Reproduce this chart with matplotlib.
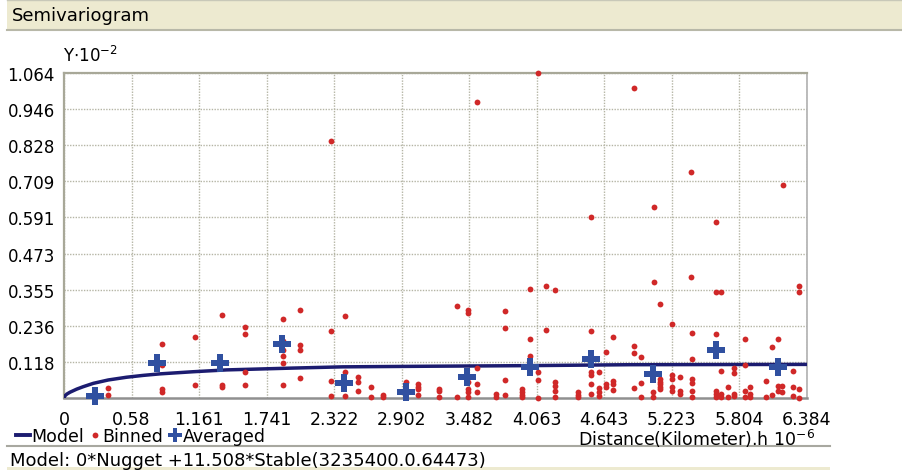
import numpy as np
import matplotlib
matplotlib.use("Agg")
import matplotlib.pyplot as plt
from matplotlib.patches import Rectangle
from matplotlib.lines import Line2D

plt.rcParams['font.family'] = ['DejaVu Sans']

#===== DATA =====#
xticks = [0, 0.58, 1.161, 1.741, 2.322, 2.902, 3.482, 4.063, 4.643, 5.223, 5.804, 6.384]
yticks = [0.118, 0.236, 0.355, 0.473, 0.591, 0.709, 0.828, 0.946, 1.064]

# binned semivariance points (distance, gamma)
binned_x = [0.380, 0.380,
            0.844, 0.844, 0.844, 0.844,
            1.127, 1.127,
            1.359, 1.359, 1.359,
            1.554, 1.554, 1.554, 1.554,
            1.883, 1.883, 1.883, 1.883, 1.883, 1.883,
            2.026, 2.026, 2.026, 2.026,
            2.298, 2.298, 2.298, 2.298,
            2.415, 2.415, 2.415,
            2.527, 2.527, 2.527,
            2.636, 2.636,
            2.741, 2.741,
            2.942,
            3.042, 3.042, 3.042, 3.042,
            3.222, 3.222, 3.222,
            3.380, 3.380,
            3.471, 3.471, 3.471, 3.471, 3.471, 3.471,
            3.549, 3.549, 3.549, 3.549,
            3.715, 3.715,
            3.789, 3.789, 3.789, 3.789,
            3.935, 3.935, 3.935, 3.935,
            4.005, 4.005, 4.005,
            4.073, 4.072, 4.072, 4.072,
            4.138, 4.138,
            4.216, 4.216, 4.216, 4.216, 4.216,
            4.416, 4.416, 4.416,
            4.531, 4.531, 4.531, 4.531, 4.531, 4.531,
            4.596, 4.596, 4.596, 4.596,
            4.660, 4.660, 4.660,
            4.716, 4.716, 4.716, 4.716,
            4.894, 4.894, 4.894, 4.894,
            4.958, 4.958, 4.958,
            5.066, 5.066, 5.060, 5.060,
            5.117, 5.117, 5.117, 5.117, 5.117, 5.117,
            5.226, 5.226, 5.226, 5.226, 5.226,
            5.289, 5.289, 5.289,
            5.389, 5.389, 5.392, 5.392, 5.392, 5.392, 5.392, 5.392,
            5.598, 5.598, 5.598, 5.598, 5.598, 5.598,
            5.641, 5.641, 5.641, 5.641,
            5.701, 5.701,
            5.753, 5.753, 5.753, 5.753,
            5.851, 5.851, 5.851, 5.851,
            5.894, 5.894, 5.894,
            6.033, 6.033,
            6.079, 6.079,
            6.133, 6.133, 6.133,
            6.176, 6.171, 6.171,
            6.268, 6.268, 6.268,
            6.311, 6.311, 6.311, 6.311]
binned_y = [0.032, 0.010,
            0.177, 0.108, 0.029, 0.021,
            0.201, 0.043,
            0.272, 0.043, 0.036,
            0.234, 0.210, 0.084, 0.043,
            0.259, 0.188, 0.158, 0.138, 0.114, 0.043,
            0.288, 0.172, 0.158, 0.064,
            0.841, 0.218, 0.057, 0.006,
            0.267, 0.084, 0.006,
            0.069, 0.052, 0.024,
            0.035, 0.002,
            0.010, 0.002,
            0.051,
            0.046, 0.036, 0.029, 0.010,
            0.029, 0.024, 0.004,
            0.300, 0.002,
            0.288, 0.278, 0.051, 0.029, 0.019, 0.002,
            0.969, 0.097, 0.046, 0.019,
            0.013, 0.002,
            0.284, 0.229, 0.060, 0.010,
            0.029, 0.019, 0.010, 0.002,
            0.358, 0.193, 0.138,
            1.065, 0.086, 0.060, 0.000,
            0.368, 0.223,
            0.354, 0.051, 0.040, 0.024, 0.004,
            0.019, 0.010, 0.002,
            0.592, 0.218, 0.086, 0.075, 0.046, 0.013,
            0.086, 0.032, 0.019, 0.008,
            0.152, 0.046, 0.036,
            0.201, 0.057, 0.046, 0.027,
            1.015, 0.171, 0.147, 0.032,
            0.133, 0.048, 0.002,
            0.624, 0.379, 0.019, 0.004,
            0.308, 0.062, 0.052, 0.046, 0.036, 0.029,
            0.242, 0.075, 0.062, 0.036, 0.024,
            0.069, 0.024, 0.013,
            0.741, 0.396, 0.213, 0.128, 0.062, 0.048, 0.024, 0.002,
            0.575, 0.346, 0.210, 0.024, 0.013, 0.004,
            0.346, 0.089, 0.013, 0.004,
            0.035, 0.002,
            0.097, 0.082, 0.013, 0.006,
            0.193, 0.108, 0.024, 0.002,
            0.036, 0.013, 0.004,
            0.057, 0.002,
            0.168, 0.010,
            0.193, 0.040, 0.024,
            0.698, 0.040, 0.019,
            0.089, 0.036, 0.006,
            0.366, 0.346, 0.029, 0.000]

# averaged points
avg_x = [0.266, 0.801, 1.339, 1.869, 2.404, 2.942, 3.463, 4.001, 4.531, 5.060, 5.598, 6.133]
avg_y = [0.006, 0.113, 0.115, 0.177, 0.048, 0.019, 0.068, 0.100, 0.128, 0.079, 0.156, 0.100]

# fitted model curve
model_x = [0, 0.008, 0.025, 0.052, 0.109, 0.165, 0.252, 0.380, 0.538, 0.680, 0.824, 1.110,
           1.397, 1.683, 1.969, 2.395, 3.142, 4.000, 4.860, 6.384]
model_y = [0, 0.007, 0.013, 0.019, 0.029, 0.037, 0.048, 0.059, 0.068, 0.074, 0.079, 0.086,
           0.092, 0.095, 0.098, 0.102, 0.104, 0.106, 0.109, 0.110]

model_text = "Model: 0*Nugget +11.508*Stable(3235400.0.64473)"
#========================================#

W, H = 903, 477
fig = plt.figure(figsize=(W / 100, H / 100), dpi=100)
beige = "#EDEAD0"

# header bar
fig.patches.append(Rectangle((7 / W, 1 - 30 / H), 1 - 7 / W, 29 / H, transform=fig.transFigure,
                             facecolor=beige, edgecolor="none", zorder=0))
fig.add_artist(Line2D([7 / W, 1], [1 - 30.5 / H] * 2, color="#B8B8A8", lw=1.5))
fig.add_artist(Line2D([7 / W, 1], [1 - 1 / H] * 2, color="#C8C8B8", lw=1))
fig.text(12 / W, 1 - 16 / H, "Semivariogram", fontsize=13, va="center", ha="left")

ax = fig.add_axes([64 / W, 78 / H, (807 - 64) / W, (399 - 74) / H])
ax.set_xlim(0, 6.384)
ax.set_ylim(0, 1.064)

ax.grid(True, color="#B5B5A5", linestyle=(0, (1, 1)), linewidth=1)
ax.set_axisbelow(True)

ax.plot(model_x, model_y, color="#1C1C70", lw=2.5, solid_capstyle="round", zorder=3)
ax.plot(binned_x, binned_y, linestyle="none", marker="o", markersize=4.2, color="#D02828",
        markeredgewidth=0, zorder=4, clip_on=False)
ax.plot(avg_x, avg_y, linestyle="none", marker="P", markersize=13, color="#3050A0",
        markeredgewidth=0, zorder=5, clip_on=False)

ax.set_xticks(xticks)
ax.set_xticklabels(["0"] + [str(v) for v in xticks[1:]])
ax.set_yticks(yticks)
ax.set_yticklabels([str(v) for v in yticks])
ax.tick_params(axis="both", length=0)
ax.tick_params(axis="x", pad=9, labelsize=12.5)
ax.tick_params(axis="y", pad=6.5, labelsize=12)

for side in ["top", "left"]:
    ax.spines[side].set_color("#A8A898")
    ax.spines[side].set_linewidth(1.6)
ax.spines["bottom"].set_color("#909090")
ax.spines["bottom"].set_linewidth(1.8)
ax.spines["right"].set_color("#B0B0B0")
ax.spines["right"].set_linewidth(1.2)

fig.text(63 / W, 1 - 56 / H, r"Y$\cdot$10$^{-2}$", fontsize=12, ha="left", va="center")
fig.text(578 / W, 1 - 439 / H, r"Distance(Kilometer).h 10$^{-6}$", fontsize=12.5, ha="left", va="center")

handles = [Line2D([], [], color="#1C1C70", lw=2.8),
           Line2D([], [], linestyle="none", marker="o", markersize=4.2, color="#D02828", markeredgewidth=0),
           Line2D([], [], linestyle="none", marker="P", markersize=10, color="#3050A0", markeredgewidth=0)]
fig.legend(handles, ["Model", "Binned", "Averaged"], loc="center left",
           bbox_to_anchor=(16 / W, 1 - 437 / H), ncol=3, frameon=False, fontsize=12.5,
           handlelength=0.8, handletextpad=0.05, columnspacing=0.25, borderpad=0, borderaxespad=0)

# footer
fig.add_artist(Line2D([7 / W, 830 / W], [1 - 446.5 / H] * 2, color="#A8A8A0", lw=1.5))
fig.text(10 / W, 1 - 461 / H, model_text, fontsize=13, ha="left", va="center")
fig.patches.append(Rectangle((7 / W, 1 - 471 / H), (830 - 7) / W, 3 / H, transform=fig.transFigure,
                             facecolor=beige, edgecolor="none"))

fig.savefig("out.png", dpi=100)
